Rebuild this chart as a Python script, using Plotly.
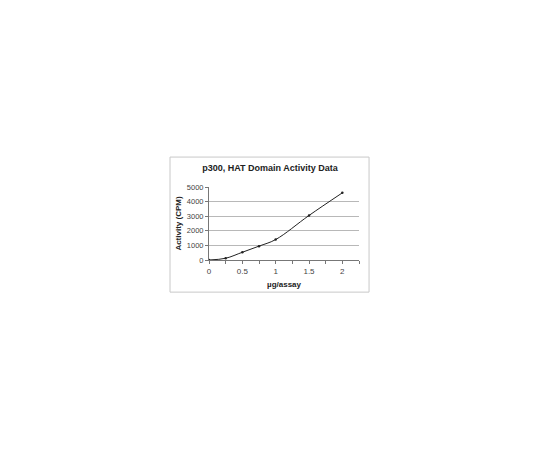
import plotly.graph_objects as go

# ug of enzyme per assay vs. measured activity (CPM)
ug_per_assay = [0, 0.25, 0.5, 0.75, 1.0, 1.5, 2.0]
activity_cpm = [0, 120, 530, 950, 1400, 3050, 4600]

x_ticks = [0, 0.5, 1, 1.5, 2]
x_tick_labels = ["0", "0.5", "1", "1.5", "2"]
y_ticks = [0, 1000, 2000, 3000, 4000, 5000]

fig = go.Figure()

fig.add_trace(go.Scatter(
    x=ug_per_assay, y=activity_cpm,
    mode="lines+markers",
    line=dict(color="#222222", width=1, shape="spline", smoothing=1.0),
    marker=dict(color="#222222", size=2.5),
    showlegend=False,
))

# light outer frame around the whole chart
fig.add_shape(type="rect", xref="paper", yref="paper",
              x0=-0.26, x1=1.067, y0=-0.44, y1=1.41,
              line=dict(color="#c8c8c8", width=1), fillcolor="rgba(0,0,0,0)")

fig.update_layout(
    width=540, height=450,
    margin=dict(l=201, r=189, t=179, b=198),
    paper_bgcolor="white", plot_bgcolor="white",
    font=dict(family="Liberation Sans, Arial", size=8, color="#444444"),
    title=dict(text="<b>p300, HAT Domain Activity Data</b>",
               x=262 / 540, xref="container", xanchor="center",
               y=1 - 160 / 450, yanchor="middle",
               font=dict(size=9, color="#222222")),
    xaxis=dict(
        range=[0, 2.25],
        tickvals=x_ticks, ticktext=x_tick_labels,
        ticks="outside", ticklen=3, tickcolor="#777777",
        minor=dict(dtick=0.25, ticks="outside", ticklen=3, tickcolor="#777777"),
        showgrid=False, zeroline=False,
        showline=True, linecolor="#777777", linewidth=1,
        title=dict(text="<b>µg/assay</b>", standoff=6,
                   font=dict(size=8, color="#222222")),
        tickfont=dict(size=8),
    ),
    yaxis=dict(
        range=[0, 5000],
        tickvals=y_ticks,
        ticks="outside", ticklen=3, tickcolor="#777777",
        showgrid=True, gridcolor="#b8b8b8", gridwidth=1,
        zeroline=False,
        showline=True, linecolor="#777777", linewidth=1,
        title=dict(text="<b>Activity (CPM)</b>", standoff=4,
                   font=dict(size=8, color="#222222")),
        tickfont=dict(size=7.5),
    ),
)

fig.write_html("out.html")
